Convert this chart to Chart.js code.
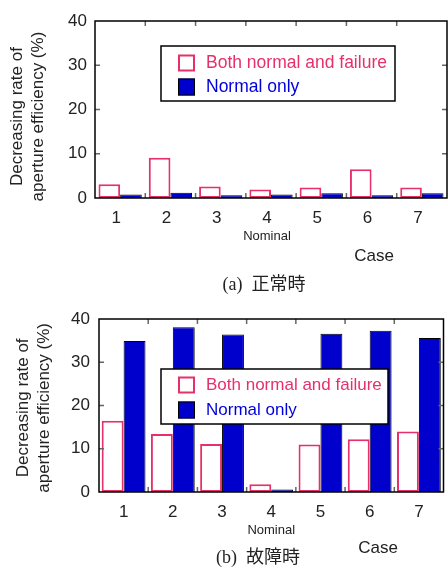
<!DOCTYPE html>
<html>
<head>
<meta charset="utf-8">
<script src="https://cdn.jsdelivr.net/npm/chart.js@4.4.1/dist/chart.umd.min.js"></script>
<style>
html, body { margin: 0; padding: 0; background: #fff; }
#wrap { position: relative; width: 448px; height: 569px; overflow: hidden; }
canvas { position: absolute; left: 0; }
</style>
</head>
<body>
<div id="wrap">
    <canvas id="chartA" width="448" height="300" style="top:0"></canvas>
    <canvas id="chartB" width="448" height="279" style="top:290px"></canvas>
</div>
<script>
/* ================= DATA ================= */
const CASES = ['1', '2', '3', '4', '5', '6', '7'];
const SERIES_NAMES = ['Both normal and failure', 'Normal only'];
const Y_TICKS = [0, 10, 20, 30, 40];
const Y_TITLE = ['Decreasing rate of', 'aperture efficiency (%)'];

// (a) normal operation
const BOTH_A = [3.1, 9.1, 2.6, 1.9, 2.4, 6.5, 2.4];
const NORMAL_ONLY_A = [0.8, 1.2, 0.6, 0.8, 1.1, 0.6, 1.1];

// (b) failure
const BOTH_B = [16.5, 13.4, 11.1, 1.8, 11.0, 12.2, 14.0];
const NORMAL_ONLY_B = [34.9, 38.1, 36.4, 0.6, 36.6, 37.3, 35.6];

const RED = '#e6306a';
const BLUE = '#0000cc';
const FONT = '"Liberation Sans", Arial, sans-serif';
const CAPTION_FONT = '18px "Liberation Serif", "Noto Sans CJK JP", serif';

/* ================= PLUGINS ================= */
// box frame + small inward ticks like the original plot
const framePlugin = {
    id: 'frame',
    afterDatasetsDraw(chart) {
        const { ctx, chartArea: a, scales } = chart;
        ctx.save();
        ctx.strokeStyle = '#666';
        ctx.lineWidth = 1.5;
        const len = 5;
        Y_TICKS.slice(1, -1).forEach(v => {
            const y = scales.y.getPixelForValue(v);
            ctx.beginPath();
            ctx.moveTo(a.left, y); ctx.lineTo(a.left + len, y);
            ctx.moveTo(a.right, y); ctx.lineTo(a.right - len, y);
            ctx.stroke();
        });
        for (let i = 0; i < CASES.length - 1; i++) {
            const x = (scales.x.getPixelForTick(i) + scales.x.getPixelForTick(i + 1)) / 2;
            ctx.beginPath();
            ctx.moveTo(x, a.top); ctx.lineTo(x, a.top + len);
            ctx.moveTo(x, a.bottom); ctx.lineTo(x, a.bottom - len);
            ctx.stroke();
        }
        ctx.strokeStyle = '#000';
        ctx.strokeRect(a.left, a.top, a.right - a.left, a.bottom - a.top);
        ctx.restore();
    }
};

const legendPlugin = {
    id: 'boxLegend',
    afterDraw(chart, args, opts) {
        const ctx = chart.ctx;
        ctx.save();
        ctx.fillStyle = '#fff';
        ctx.fillRect(opts.x, opts.y, opts.w, opts.h);
        ctx.strokeStyle = '#000';
        ctx.lineWidth = 1.5;
        ctx.strokeRect(opts.x, opts.y, opts.w, opts.h);
        chart.data.datasets.forEach((ds, i) => {
            const cy = opts.y + opts.rows[i];
            const sx = opts.x + 17;
            ctx.fillStyle = ds.backgroundColor;
            ctx.fillRect(sx, cy - 8.5, 17, 17);
            ctx.strokeStyle = ds.borderColor;
            ctx.lineWidth = ds.borderWidth;
            ctx.strokeRect(sx + ds.borderWidth / 2, cy - 8.5 + ds.borderWidth / 2, 17 - ds.borderWidth, 17 - ds.borderWidth);
            ctx.fillStyle = opts.colors[i];
            ctx.font = opts.fontSize + 'px ' + FONT;
            ctx.textBaseline = 'middle';
            ctx.textAlign = 'left';
            ctx.fillText(ds.label, opts.x + 45, cy);
        });
        ctx.restore();
    }
};

const extrasPlugin = {
    id: 'extras',
    afterDraw(chart, args, opts) {
        const { ctx, chartArea: a, scales } = chart;
        ctx.save();
        ctx.textAlign = 'center';
        ctx.textBaseline = 'middle';
        ctx.fillStyle = '#222';
        ctx.font = '13px ' + FONT;
        ctx.fillText('Nominal', scales.x.getPixelForTick(3) + opts.labelOffset, a.bottom + 38);
        ctx.font = '17px ' + FONT;
        ctx.fillText('Case', opts.caseX, opts.caseY);
        ctx.font = CAPTION_FONT;
        ctx.fillText(opts.caption, opts.capX, opts.capY);
        ctx.restore();
    }
};

/* ================= CHARTS ================= */
function makeChart(id, both, normal, cfg) {
    // trailing nbsp nudges the rotated, centred title down a little
    const pad = '\u00a0'.repeat(cfg.titleNudge);
    return new Chart(document.getElementById(id), {
        type: 'bar',
        data: {
            labels: CASES,
            datasets: [
                { label: SERIES_NAMES[0], data: both, backgroundColor: '#ffffff', borderColor: RED, borderWidth: 2,
                  borderSkipped: false, categoryPercentage: cfg.catPct, barPercentage: 1 },
                { label: SERIES_NAMES[1], data: normal, backgroundColor: BLUE, borderColor: '#000', borderWidth: 1,
                  borderSkipped: false, categoryPercentage: cfg.catPct, barPercentage: 1 }
            ]
        },
        options: {
            responsive: false,
            animation: false,
            devicePixelRatio: 1,
            layout: { padding: cfg.padding },
            plugins: {
                legend: { display: false },
                tooltip: { enabled: false },
                boxLegend: cfg.legend,
                extras: cfg.extras
            },
            scales: {
                x: {
                    grid: { display: false, drawTicks: false },
                    border: { display: false },
                    ticks: { color: '#222', font: { family: FONT, size: 17 }, padding: 10, labelOffset: cfg.extras.labelOffset, maxRotation: 0 },
                    afterFit(s) { s.height = cfg.xHeight; }
                },
                y: {
                    min: 0, max: 40,
                    afterBuildTicks(s) { s.ticks = Y_TICKS.map(v => ({ value: v })); },
                    grid: { display: false, drawTicks: false },
                    border: { display: false },
                    ticks: { color: '#222', font: { family: FONT, size: 17 }, padding: cfg.yTickPad },
                    title: {
                        display: true,
                        text: Y_TITLE.map(t => t + pad),
                        color: '#222',
                        font: { family: FONT, size: 17, lineHeight: 1.24 },
                        padding: { top: cfg.titlePad, bottom: 0 }
                    },
                    afterFit(s) { s.width = cfg.yWidth; }
                }
            }
        },
        plugins: [framePlugin, legendPlugin, extrasPlugin]
    });
}

makeChart('chartA', BOTH_A, NORMAL_ONLY_A, {
    padding: { top: 21, right: 1, left: 0, bottom: 0 },
    xHeight: 102, yWidth: 95, yTickPad: 8, titlePad: 6.5, titleNudge: 3, catPct: 0.86,
    legend: { x: 161, y: 46, w: 234, h: 55, rows: [17, 41], fontSize: 17.5, colors: [RED, '#0000dd'] },
    extras: { labelOffset: -4, caseX: 374, caseY: 256, caption: '(a)  正常時', capX: 264, capY: 285 }
});

makeChart('chartB', BOTH_B, NORMAL_ONLY_B, {
    padding: { top: 29, right: 4.5, left: 0, bottom: 0 },
    xHeight: 77, yWidth: 99, yTickPad: 9, titlePad: 12.5, titleNudge: 1, catPct: 0.89,
    legend: { x: 161, y: 79, w: 227, h: 55, rows: [16, 41], fontSize: 17, colors: [RED, '#0000dd'] },
    extras: { labelOffset: 0, caseX: 378, caseY: 258, caption: '(b)  故障時', capX: 258, capY: 268 }
});
</script>
</body>
</html>
